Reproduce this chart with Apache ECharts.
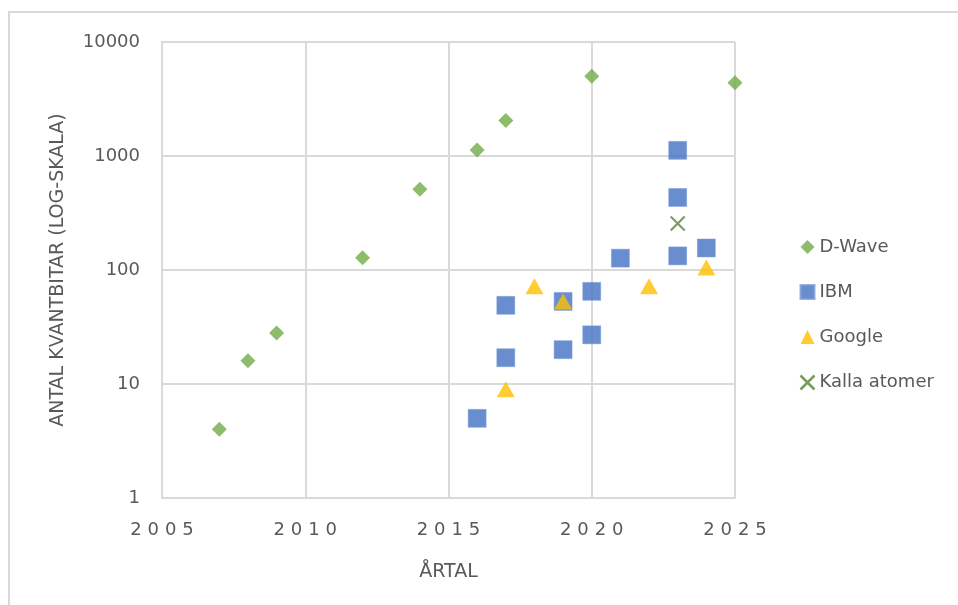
<!DOCTYPE html>
<html>
<head>
<meta charset="utf-8">
<script src="https://cdn.jsdelivr.net/npm/echarts@6/dist/echarts.min.js"></script>
<style>
  html, body { margin: 0; padding: 0; background: #fff; }
  #chart { width: 958px; height: 605px; }
</style>
</head>
<body>
<div id="chart"></div>
<script>
  // data: [year, qubits]
  const dwave = [[2007, 4], [2008, 16], [2009, 28], [2012, 128], [2014, 512], [2016, 1130], [2017, 2048], [2020, 5000], [2025, 4400]]
  const ibm = [[2016, 5], [2017, 49], [2017, 17], [2019, 53], [2019, 20], [2020, 65], [2020, 27], [2021, 127], [2023, 1121], [2023, 433], [2023, 133], [2024, 156]]
  const google = [[2017, 9], [2018, 72], [2019, 53], [2022, 72], [2024, 105]]
  const kallaAtomer = [[2023, 256]]
  const yearTicks = [2005, 2010, 2015, 2020, 2025]
  const qubitTicks = [1, 10, 100, 1000, 10000]

  const font = '"DejaVu Sans", sans-serif'
  const textColor = '#595959'
  const gridColor = '#d9d9d9'
  const crossPath = 'path://M0,0L10,10M10,0L0,10'

  const chart = echarts.init(document.getElementById('chart'))

  chart.setOption({
    animation: false,
    textStyle: { fontFamily: font },
    grid: { left: 162, right: 223, top: 42, bottom: 107 },
    graphic: [{
      type: 'rect',
      shape: { x: 9, y: 12, width: 1000, height: 700 },
      style: { fill: 'none', stroke: gridColor, lineWidth: 2 }
    }],
    legend: {
      orient: 'vertical',
      left: 793,
      top: 233,
      itemGap: 27,
      itemWidth: 14,
      itemHeight: 14,
      textStyle: { color: textColor, fontSize: 18, fontFamily: font },
      data: [
        { name: 'D-Wave', icon: 'diamond' },
        { name: 'IBM', icon: 'rect' },
        { name: 'Google', icon: 'triangle' },
        { name: 'Kalla atomer', icon: crossPath, itemStyle: { color: 'none', borderColor: '#548235', borderWidth: 2.5 } }
      ]
    },
    xAxis: {
      type: 'value',
      min: yearTicks[0],
      max: yearTicks[yearTicks.length - 1],
      interval: 5,
      name: 'ÅRTAL',
      nameLocation: 'middle',
      nameGap: 65,
      nameTextStyle: { color: textColor, fontSize: 19, fontFamily: font },
      axisLine: { lineStyle: { color: gridColor, width: 2 } },
      axisTick: { show: false },
      splitLine: { lineStyle: { color: gridColor, width: 2 } },
      axisLabel: {
        color: textColor,
        fontSize: 18,
        margin: 23,
        formatter: v => String(v).split('').join('\u2004')
      }
    },
    yAxis: {
      type: 'log',
      logBase: 10,
      min: qubitTicks[0],
      max: qubitTicks[qubitTicks.length - 1],
      name: 'ANTAL KVANTBITAR (LOG-SKALA)',
      nameLocation: 'middle',
      nameGap: 94,
      nameTextStyle: { color: textColor, fontSize: 19, fontFamily: font },
      axisLine: { show: true, lineStyle: { color: gridColor, width: 2 } },
      axisTick: { show: false },
      splitLine: { lineStyle: { color: gridColor, width: 2 } },
      axisLabel: { color: textColor, fontSize: 18, margin: 22, formatter: v => String(v) }
    },
    series: [
      {
        name: 'D-Wave',
        type: 'scatter',
        symbol: 'diamond',
        symbolSize: 15,
        itemStyle: { color: '#70ad47' },
        data: dwave
      },
      {
        name: 'IBM',
        type: 'scatter',
        symbol: 'rect',
        symbolSize: 18,
        itemStyle: { color: '#4472c4', borderColor: '#7f9fd6', borderWidth: 0.6 },
        data: ibm
      },
      {
        name: 'Google',
        type: 'scatter',
        symbol: 'triangle',
        symbolSize: [18, 16],
        itemStyle: { color: '#ffc000' },
        data: google
      },
      {
        name: 'Kalla atomer',
        type: 'scatter',
        symbol: crossPath,
        symbolSize: 14,
        itemStyle: { color: 'none', borderColor: '#548235', borderWidth: 2 },
        data: kallaAtomer
      }
    ]
  })
</script>
</body>
</html>
